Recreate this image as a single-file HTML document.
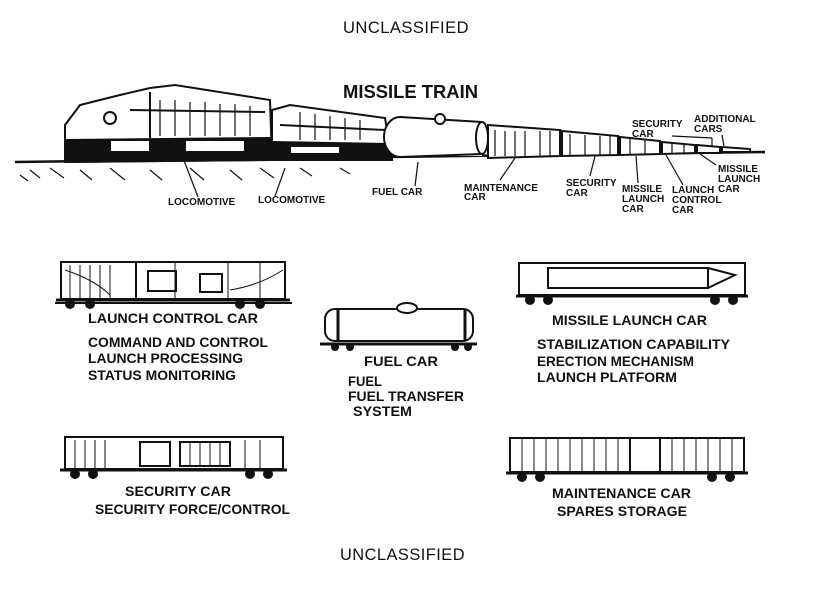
<!DOCTYPE html>
<html><head><meta charset="utf-8"><style>
html,body{margin:0;padding:0;background:#fff}
svg{display:block}
text{font-family:"Liberation Sans",Arial,sans-serif;font-weight:bold;fill:#111}
.t{font-size:14px}
.s{font-size:10px}
.u{font-weight:normal;font-size:17px;letter-spacing:0.5px}
</style></head><body>
<svg width="817" height="603" viewBox="0 0 817 603" xmlns="http://www.w3.org/2000/svg">
<rect width="817" height="603" fill="#fff"/>
<text class="u" x="343" y="33" textLength="126" lengthAdjust="spacingAndGlyphs">UNCLASSIFIED</text>
<text x="343" y="98" font-size="18" textLength="135" lengthAdjust="spacingAndGlyphs">MISSILE TRAIN</text>

<!-- Train top -->
<g stroke="#111" fill="#fff" stroke-width="2">
  <line x1="15" y1="162" x2="765" y2="152" stroke-width="2.5"/>
  <!-- loco 1 -->
  <polygon points="65,125 80,105 120,95 150,88 175,85 270,100 272,160 65,162" />
  <polygon points="65,140 272,138 272,160 65,162" fill="#111"/>
  <rect x="110" y="140" width="40" height="12" fill="#fff"/>
  <rect x="185" y="140" width="60" height="12" fill="#fff"/>
  <line x1="130" y1="110" x2="265" y2="112"/>
  <line x1="150" y1="92" x2="150" y2="138"/>
  <circle cx="110" cy="118" r="6"/>
  <!-- loco 2 -->
  <polygon points="272,110 290,105 385,118 392,160 272,160"/>
  <polygon points="272,142 392,144 392,160 272,160" fill="#111"/>
  <rect x="290" y="146" width="50" height="8" fill="#fff"/>
  <line x1="280" y1="125" x2="385" y2="130"/>
  <!-- fuel car -->
  <ellipse cx="400" cy="137" rx="16" ry="20"/>
  <rect x="400" y="118" width="82" height="38" stroke="none"/>
  <line x1="400" y1="117" x2="482" y2="122"/>
  <line x1="400" y1="157" x2="482" y2="154"/>
  <ellipse cx="482" cy="138" rx="6" ry="16"/>
  <circle cx="440" cy="119" r="5"/>
  <!-- boxcars -->
  <polygon points="488,125 560,130 560,156 488,158" fill="#fff"/>
  <polygon points="562,131 618,136 618,155 562,156"/>
  <polygon points="620,137 660,141 660,154 620,155"/>
  <polygon points="662,142 695,145 695,153 662,154"/>
  <polygon points="697,145 720,147 720,153 697,153"/>
  <polygon points="722,147 750,149 750,152 722,152"/>
</g>
<g stroke="#111" stroke-width="1.2">
  <line x1="160" y1="100" x2="160" y2="136"/><line x1="175" y1="100" x2="175" y2="136"/><line x1="190" y1="102" x2="190" y2="136"/><line x1="205" y1="102" x2="205" y2="136"/><line x1="220" y1="104" x2="220" y2="136"/><line x1="235" y1="104" x2="235" y2="136"/><line x1="250" y1="106" x2="250" y2="136"/>
  <line x1="300" y1="112" x2="300" y2="140"/><line x1="315" y1="114" x2="315" y2="140"/><line x1="330" y1="116" x2="330" y2="140"/><line x1="345" y1="118" x2="345" y2="140"/><line x1="360" y1="120" x2="360" y2="140"/>
  <line x1="495" y1="130" x2="495" y2="156"/><line x1="505" y1="131" x2="505" y2="156"/><line x1="515" y1="131" x2="515" y2="156"/><line x1="525" y1="131" x2="525" y2="156"/><line x1="540" y1="131" x2="540" y2="156"/><line x1="550" y1="131" x2="550" y2="156"/>
  <line x1="570" y1="134" x2="570" y2="155"/><line x1="585" y1="135" x2="585" y2="155"/><line x1="600" y1="136" x2="600" y2="155"/><line x1="610" y1="136" x2="610" y2="155"/>
  <line x1="630" y1="139" x2="630" y2="154"/><line x1="645" y1="140" x2="645" y2="154"/>
  <line x1="672" y1="143" x2="672" y2="154"/><line x1="684" y1="144" x2="684" y2="154"/>
  <path d="M30,170 l10,8 M50,168 l14,10 M80,170 l12,10 M110,168 l15,12 M150,170 l12,10 M190,168 l14,12 M230,170 l12,10 M260,168 l14,10 M300,168 l12,8 M340,168 l10,6 M20,175 l8,6" fill="none"/>
  <line x1="198" y1="197" x2="180" y2="150"/>
  <line x1="275" y1="196" x2="285" y2="168"/>
  <line x1="415" y1="186" x2="418" y2="162"/>
  <line x1="500" y1="180" x2="515" y2="158"/>
  <line x1="590" y1="176" x2="595" y2="156"/>
  <line x1="638" y1="183" x2="636" y2="156"/>
  <line x1="683" y1="185" x2="666" y2="155"/>
  <line x1="716" y1="165" x2="700" y2="154"/>
  <line x1="672" y1="136" x2="712" y2="138"/><line x1="712" y1="138" x2="712" y2="146"/>
  <line x1="722" y1="135" x2="724" y2="146"/>
</g>
<g class="s">
<text x="168" y="205">LOCOMOTIVE</text>
<text x="258" y="203">LOCOMOTIVE</text>
<text x="372" y="195">FUEL CAR</text>
<text x="464" y="191">MAINTENANCE</text><text x="464" y="200">CAR</text>
<text x="566" y="186">SECURITY</text><text x="566" y="196">CAR</text>
<text x="622" y="192">MISSILE</text><text x="622" y="202">LAUNCH</text><text x="622" y="212">CAR</text>
<text x="672" y="193">LAUNCH</text><text x="672" y="203">CONTROL</text><text x="672" y="213">CAR</text>
<text x="718" y="172">MISSILE</text><text x="718" y="182">LAUNCH</text><text x="718" y="192">CAR</text>
<text x="632" y="127">SECURITY</text><text x="632" y="137">CAR</text>
<text x="694" y="122">ADDITIONAL</text><text x="694" y="132">CARS</text>
</g>

<!-- Launch control car -->
<g stroke="#111" fill="none" stroke-width="2">
  <rect x="61" y="262" width="224" height="37"/>
  <line x1="56" y1="300" x2="290" y2="300" stroke-width="3"/>
  <line x1="55" y1="303" x2="292" y2="303"/>
  <line x1="136" y1="262" x2="136" y2="298"/>
  <rect x="148" y="271" width="28" height="20"/>
  <rect x="200" y="274" width="22" height="18"/>
  <path d="M65,270 Q95,280 110,295 M230,290 Q260,285 283,270" stroke-width="1"/>
  <circle cx="70" cy="304" r="4" fill="#111"/><circle cx="90" cy="304" r="4" fill="#111"/><circle cx="240" cy="304" r="4" fill="#111"/><circle cx="260" cy="304" r="4" fill="#111"/>
</g>
<g stroke="#111" stroke-width="1"><line x1="70" y1="265" x2="70" y2="298"/><line x1="80" y1="265" x2="80" y2="298"/><line x1="90" y1="265" x2="90" y2="298"/><line x1="100" y1="265" x2="100" y2="298"/><line x1="110" y1="265" x2="110" y2="298"/><line x1="175" y1="262" x2="175" y2="298"/><line x1="228" y1="262" x2="228" y2="298"/><line x1="260" y1="262" x2="260" y2="298"/></g>
<text class="t" x="88" y="323" textLength="170" lengthAdjust="spacingAndGlyphs">LAUNCH CONTROL CAR</text>
<text class="t" x="88" y="347" textLength="180" lengthAdjust="spacingAndGlyphs">COMMAND AND CONTROL</text>
<text class="t" x="88" y="363" textLength="155" lengthAdjust="spacingAndGlyphs">LAUNCH PROCESSING</text>
<text class="t" x="88" y="380" textLength="148" lengthAdjust="spacingAndGlyphs">STATUS MONITORING</text>

<!-- Fuel car -->
<g stroke="#111" fill="none" stroke-width="2">
  <rect x="325" y="309" width="148" height="32" rx="10"/>
  <ellipse cx="407" cy="308" rx="10" ry="5" fill="#fff"/>
  <line x1="338" y1="309" x2="338" y2="341" stroke-width="3"/><line x1="465" y1="309" x2="465" y2="341" stroke-width="3"/>
  <line x1="320" y1="344" x2="477" y2="344" stroke-width="3"/>
  <circle cx="335" cy="347" r="3" fill="#111"/><circle cx="350" cy="347" r="3" fill="#111"/><circle cx="455" cy="347" r="3" fill="#111"/><circle cx="468" cy="347" r="3" fill="#111"/>
</g>
<text class="t" x="364" y="366" textLength="74" lengthAdjust="spacingAndGlyphs">FUEL CAR</text>
<text class="t" x="348" y="386" textLength="34" lengthAdjust="spacingAndGlyphs">FUEL</text>
<text class="t" x="348" y="401" textLength="116" lengthAdjust="spacingAndGlyphs">FUEL TRANSFER</text>
<text class="t" x="353" y="416" textLength="59" lengthAdjust="spacingAndGlyphs">SYSTEM</text>

<!-- Missile launch car -->
<g stroke="#111" fill="none" stroke-width="2">
  <rect x="519" y="263" width="226" height="32"/>
  <rect x="548" y="268" width="160" height="20"/>
  <path d="M708,268 L735,275 L708,288"/>
  <line x1="516" y1="296" x2="748" y2="296" stroke-width="3"/>
  <circle cx="530" cy="300" r="4" fill="#111"/><circle cx="548" cy="300" r="4" fill="#111"/><circle cx="715" cy="300" r="4" fill="#111"/><circle cx="733" cy="300" r="4" fill="#111"/>
</g>
<text class="t" x="552" y="325" textLength="155" lengthAdjust="spacingAndGlyphs">MISSILE LAUNCH CAR</text>
<text class="t" x="537" y="349" textLength="193" lengthAdjust="spacingAndGlyphs">STABILIZATION CAPABILITY</text>
<text class="t" x="537" y="366" textLength="157" lengthAdjust="spacingAndGlyphs">ERECTION MECHANISM</text>
<text class="t" x="537" y="382" textLength="140" lengthAdjust="spacingAndGlyphs">LAUNCH PLATFORM</text>

<!-- Security car -->
<g stroke="#111" fill="none" stroke-width="2">
  <rect x="65" y="437" width="218" height="32"/>
  <line x1="60" y1="470" x2="287" y2="470" stroke-width="3"/>
  <rect x="140" y="442" width="30" height="24"/><rect x="180" y="442" width="50" height="24"/>
  <circle cx="75" cy="474" r="4" fill="#111"/><circle cx="93" cy="474" r="4" fill="#111"/><circle cx="250" cy="474" r="4" fill="#111"/><circle cx="268" cy="474" r="4" fill="#111"/>
</g>
<g stroke="#111" stroke-width="1"><line x1="75" y1="440" x2="75" y2="468"/><line x1="85" y1="440" x2="85" y2="468"/><line x1="95" y1="440" x2="95" y2="468"/><line x1="105" y1="440" x2="105" y2="468"/><line x1="190" y1="442" x2="190" y2="466"/><line x1="200" y1="442" x2="200" y2="466"/><line x1="210" y1="442" x2="210" y2="466"/><line x1="220" y1="442" x2="220" y2="466"/><line x1="245" y1="440" x2="245" y2="468"/><line x1="260" y1="440" x2="260" y2="468"/></g>
<text class="t" x="125" y="496" textLength="106" lengthAdjust="spacingAndGlyphs">SECURITY CAR</text>
<text class="t" x="95" y="514" textLength="195" lengthAdjust="spacingAndGlyphs">SECURITY FORCE/CONTROL</text>

<!-- Maintenance car -->
<g stroke="#111" fill="none" stroke-width="2">
  <rect x="510" y="438" width="234" height="34"/>
  <line x1="506" y1="473" x2="748" y2="473" stroke-width="3"/>
  <circle cx="522" cy="477" r="4" fill="#111"/><circle cx="540" cy="477" r="4" fill="#111"/><circle cx="712" cy="477" r="4" fill="#111"/><circle cx="730" cy="477" r="4" fill="#111"/>
</g>
<g stroke="#111" stroke-width="1">
<line x1="522" y1="438" x2="522" y2="472"/><line x1="534" y1="438" x2="534" y2="472"/><line x1="546" y1="438" x2="546" y2="472"/><line x1="558" y1="438" x2="558" y2="472"/><line x1="570" y1="438" x2="570" y2="472"/><line x1="582" y1="438" x2="582" y2="472"/><line x1="594" y1="438" x2="594" y2="472"/><line x1="606" y1="438" x2="606" y2="472"/><line x1="618" y1="438" x2="618" y2="472"/><line x1="630" y1="438" x2="630" y2="472" stroke-width="2"/><line x1="660" y1="438" x2="660" y2="472" stroke-width="2"/><line x1="672" y1="438" x2="672" y2="472"/><line x1="684" y1="438" x2="684" y2="472"/><line x1="696" y1="438" x2="696" y2="472"/><line x1="708" y1="438" x2="708" y2="472"/><line x1="720" y1="438" x2="720" y2="472"/><line x1="732" y1="438" x2="732" y2="472"/>
</g>
<text class="t" x="552" y="498" textLength="139" lengthAdjust="spacingAndGlyphs">MAINTENANCE CAR</text>
<text class="t" x="557" y="516" textLength="130" lengthAdjust="spacingAndGlyphs">SPARES STORAGE</text>

<text class="u" x="340" y="560" textLength="125" lengthAdjust="spacingAndGlyphs">UNCLASSIFIED</text>
</svg>
</body></html>
